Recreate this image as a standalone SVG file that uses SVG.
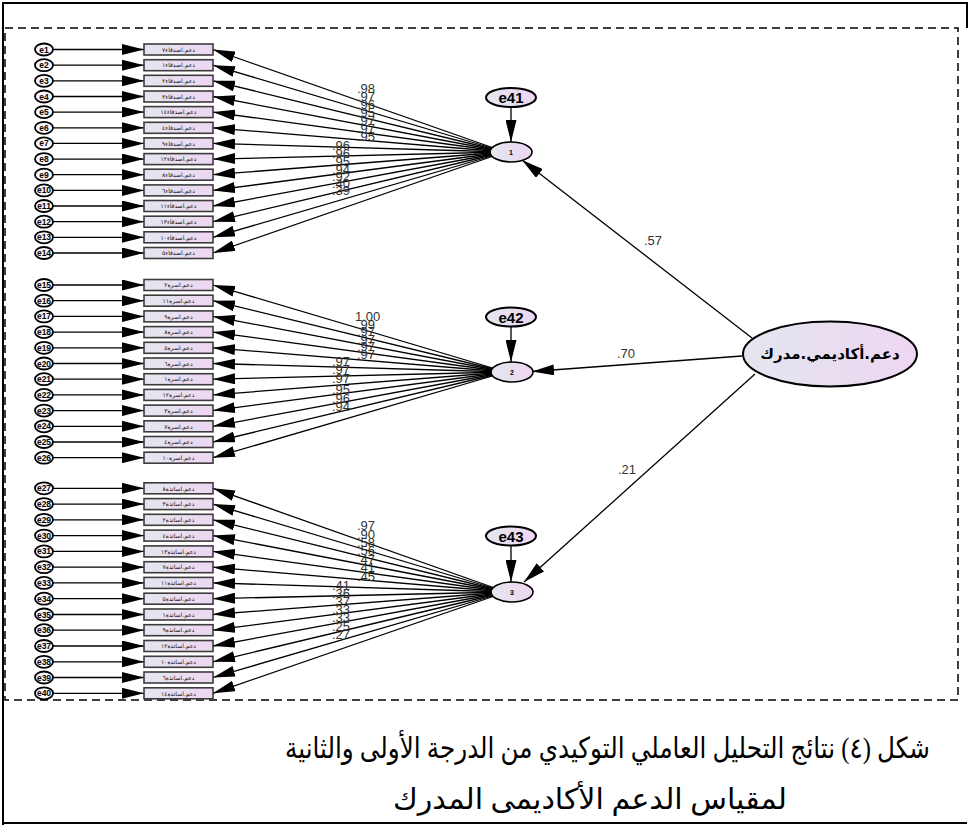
<svg xmlns="http://www.w3.org/2000/svg" width="970" height="825" viewBox="0 0 970 825">
<defs>
  <linearGradient id="fillGrad" x1="0" y1="0" x2="1" y2="0">
    <stop offset="0" stop-color="#e3e6ef"/>
    <stop offset="1" stop-color="#eed6f2"/>
  </linearGradient>
  <marker id="ah" viewBox="0 0 22 11" refX="22" refY="5.5" markerWidth="22" markerHeight="11" markerUnits="userSpaceOnUse" orient="auto">
    <path d="M0,0 L22,5.5 L0,11 z" fill="#000"/>
  </marker>
  <style>
    .err ellipse{fill:#fbf8fd;stroke:#000;stroke-width:1.8}
    .err text{font:bold 8.5px "Liberation Sans",Arial,sans-serif;text-anchor:middle;fill:#000}
    .box rect{fill:url(#fillGrad);stroke:#3c3c3c;stroke-width:1.6}
    .box text{font:6px "DejaVu Sans",sans-serif;text-anchor:middle;fill:#111;direction:rtl}
    .fac ellipse{fill:url(#fillGrad);stroke:#000;stroke-width:1.6}
    .fac text{font:bold 7px "Liberation Sans",Arial,sans-serif;text-anchor:middle}
    .res ellipse{fill:url(#fillGrad);stroke:#000;stroke-width:2}
    .res text{font:bold 15px "Liberation Sans",Arial,sans-serif;text-anchor:middle}
    .conn line{stroke:#000;stroke-width:1.3;marker-end:url(#ah)}
    .wt text{font:13px "Liberation Sans",Arial,sans-serif;fill:#333}
    .frame{fill:none;stroke:#000;stroke-width:2}
    .dash{fill:none;stroke:#000;stroke-width:1.5;stroke-dasharray:8 5}
    .cap{font:29px "Liberation Serif","DejaVu Sans",serif;text-anchor:middle;direction:rtl;fill:#000}
  </style>
</defs>
<rect width="970" height="825" fill="#fff"/>

<!-- page frame and dashed figure border -->
<g id="frame">
  <path class="frame" d="M3,825 V3 H967 V28"/>
  <path class="frame" d="M3,823 H967"/>
  <rect class="dash" x="5" y="28" width="953" height="672"/>
</g>

<!-- connectors: residual arrows, loadings and second-order paths -->
<g id="connectors" class="conn">
  <!-- residuals to indicators, block 1 -->
  <line x1="53" y1="49.5" x2="144" y2="49.5"/>
  <line x1="53" y1="65.2" x2="144" y2="65.2"/>
  <line x1="53" y1="80.8" x2="144" y2="80.8"/>
  <line x1="53" y1="96.5" x2="144" y2="96.5"/>
  <line x1="53" y1="112.1" x2="144" y2="112.1"/>
  <line x1="53" y1="127.8" x2="144" y2="127.8"/>
  <line x1="53" y1="143.4" x2="144" y2="143.4"/>
  <line x1="53" y1="159.1" x2="144" y2="159.1"/>
  <line x1="53" y1="174.7" x2="144" y2="174.7"/>
  <line x1="53" y1="190.4" x2="144" y2="190.4"/>
  <line x1="53" y1="206" x2="144" y2="206"/>
  <line x1="53" y1="221.7" x2="144" y2="221.7"/>
  <line x1="53" y1="237.3" x2="144" y2="237.3"/>
  <line x1="53" y1="253" x2="144" y2="253"/>
  <!-- residuals to indicators, block 2 -->
  <line x1="53" y1="285" x2="144" y2="285"/>
  <line x1="53" y1="300.7" x2="144" y2="300.7"/>
  <line x1="53" y1="316.4" x2="144" y2="316.4"/>
  <line x1="53" y1="332.1" x2="144" y2="332.1"/>
  <line x1="53" y1="347.8" x2="144" y2="347.8"/>
  <line x1="53" y1="363.5" x2="144" y2="363.5"/>
  <line x1="53" y1="379.2" x2="144" y2="379.2"/>
  <line x1="53" y1="394.9" x2="144" y2="394.9"/>
  <line x1="53" y1="410.6" x2="144" y2="410.6"/>
  <line x1="53" y1="426.3" x2="144" y2="426.3"/>
  <line x1="53" y1="442" x2="144" y2="442"/>
  <line x1="53" y1="457.7" x2="144" y2="457.7"/>
  <!-- residuals to indicators, block 3 -->
  <line x1="53" y1="488.3" x2="144" y2="488.3"/>
  <line x1="53" y1="504.1" x2="144" y2="504.1"/>
  <line x1="53" y1="519.8" x2="144" y2="519.8"/>
  <line x1="53" y1="535.6" x2="144" y2="535.6"/>
  <line x1="53" y1="551.4" x2="144" y2="551.4"/>
  <line x1="53" y1="567.2" x2="144" y2="567.2"/>
  <line x1="53" y1="582.9" x2="144" y2="582.9"/>
  <line x1="53" y1="598.7" x2="144" y2="598.7"/>
  <line x1="53" y1="614.5" x2="144" y2="614.5"/>
  <line x1="53" y1="630.2" x2="144" y2="630.2"/>
  <line x1="53" y1="646" x2="144" y2="646"/>
  <line x1="53" y1="661.8" x2="144" y2="661.8"/>
  <line x1="53" y1="677.5" x2="144" y2="677.5"/>
  <line x1="53" y1="693.3" x2="144" y2="693.3"/>

  <!-- factor 1 loadings -->
  <line x1="505" y1="152" x2="213" y2="49.5"/>
  <line x1="505" y1="152" x2="213" y2="65.2"/>
  <line x1="505" y1="152" x2="213" y2="80.8"/>
  <line x1="505" y1="152" x2="213" y2="96.5"/>
  <line x1="505" y1="152" x2="213" y2="112.1"/>
  <line x1="505" y1="152" x2="213" y2="127.8"/>
  <line x1="505" y1="152" x2="213" y2="143.4"/>
  <line x1="505" y1="152" x2="213" y2="159.1"/>
  <line x1="505" y1="152" x2="213" y2="174.7"/>
  <line x1="505" y1="152" x2="213" y2="190.4"/>
  <line x1="505" y1="152" x2="213" y2="206"/>
  <line x1="505" y1="152" x2="213" y2="221.7"/>
  <line x1="505" y1="152" x2="213" y2="237.3"/>
  <line x1="505" y1="152" x2="213" y2="253"/>
  <!-- factor 2 loadings -->
  <line x1="506" y1="372" x2="213" y2="285"/>
  <line x1="506" y1="372" x2="213" y2="300.7"/>
  <line x1="506" y1="372" x2="213" y2="316.4"/>
  <line x1="506" y1="372" x2="213" y2="332.1"/>
  <line x1="506" y1="372" x2="213" y2="347.8"/>
  <line x1="506" y1="372" x2="213" y2="363.5"/>
  <line x1="506" y1="372" x2="213" y2="379.2"/>
  <line x1="506" y1="372" x2="213" y2="394.9"/>
  <line x1="506" y1="372" x2="213" y2="410.6"/>
  <line x1="506" y1="372" x2="213" y2="426.3"/>
  <line x1="506" y1="372" x2="213" y2="442"/>
  <line x1="506" y1="372" x2="213" y2="457.7"/>
  <!-- factor 3 loadings -->
  <line x1="506" y1="592" x2="213" y2="488.3"/>
  <line x1="506" y1="592" x2="213" y2="504.1"/>
  <line x1="506" y1="592" x2="213" y2="519.8"/>
  <line x1="506" y1="592" x2="213" y2="535.6"/>
  <line x1="506" y1="592" x2="213" y2="551.4"/>
  <line x1="506" y1="592" x2="213" y2="567.2"/>
  <line x1="506" y1="592" x2="213" y2="582.9"/>
  <line x1="506" y1="592" x2="213" y2="598.7"/>
  <line x1="506" y1="592" x2="213" y2="614.5"/>
  <line x1="506" y1="592" x2="213" y2="630.2"/>
  <line x1="506" y1="592" x2="213" y2="646"/>
  <line x1="506" y1="592" x2="213" y2="661.8"/>
  <line x1="506" y1="592" x2="213" y2="677.5"/>
  <line x1="506" y1="592" x2="213" y2="693.3"/>

  <!-- disturbances to first-order factors -->
  <line x1="511" y1="107" x2="511" y2="142"/>
  <line x1="511" y1="326.5" x2="511" y2="362"/>
  <line x1="511" y1="545.5" x2="511" y2="582"/>

  <!-- second-order factor paths -->
  <line x1="752" y1="338" x2="522" y2="160"/>
  <line x1="742" y1="356" x2="532" y2="371.5"/>
  <line x1="755" y1="374" x2="524" y2="582"/>
</g>

<!-- observed indicators: peer support -->
<g id="peers">
  <g id="e1" class="err"><ellipse cx="44" cy="49.5" rx="9" ry="6"/><text x="44" y="52.5">e1</text></g>
  <g id="e2" class="err"><ellipse cx="44" cy="65.2" rx="9" ry="6"/><text x="44" y="68.2">e2</text></g>
  <g id="e3" class="err"><ellipse cx="44" cy="80.8" rx="9" ry="6"/><text x="44" y="83.8">e3</text></g>
  <g id="e4" class="err"><ellipse cx="44" cy="96.5" rx="9" ry="6"/><text x="44" y="99.5">e4</text></g>
  <g id="e5" class="err"><ellipse cx="44" cy="112.1" rx="9" ry="6"/><text x="44" y="115.1">e5</text></g>
  <g id="e6" class="err"><ellipse cx="44" cy="127.8" rx="9" ry="6"/><text x="44" y="130.8">e6</text></g>
  <g id="e7" class="err"><ellipse cx="44" cy="143.4" rx="9" ry="6"/><text x="44" y="146.4">e7</text></g>
  <g id="e8" class="err"><ellipse cx="44" cy="159.1" rx="9" ry="6"/><text x="44" y="162.1">e8</text></g>
  <g id="e9" class="err"><ellipse cx="44" cy="174.7" rx="9" ry="6"/><text x="44" y="177.7">e9</text></g>
  <g id="e10" class="err"><ellipse cx="44" cy="190.4" rx="9" ry="6"/><text x="44" y="193.4">e10</text></g>
  <g id="e11" class="err"><ellipse cx="44" cy="206" rx="9" ry="6"/><text x="44" y="209">e11</text></g>
  <g id="e12" class="err"><ellipse cx="44" cy="221.7" rx="9" ry="6"/><text x="44" y="224.7">e12</text></g>
  <g id="e13" class="err"><ellipse cx="44" cy="237.3" rx="9" ry="6"/><text x="44" y="240.3">e13</text></g>
  <g id="e14" class="err"><ellipse cx="44" cy="253" rx="9" ry="6"/><text x="44" y="256">e14</text></g>

  <g id="p7" class="box"><rect x="144" y="44" width="69" height="11"/><text x="178.5" y="51.7">دعم.اصدقاء٧</text></g>
  <g id="p1" class="box"><rect x="144" y="59.7" width="69" height="11"/><text x="178.5" y="67.4">دعم.اصدقاء١</text></g>
  <g id="p2" class="box"><rect x="144" y="75.3" width="69" height="11"/><text x="178.5" y="83">دعم.اصدقاء٢</text></g>
  <g id="p3" class="box"><rect x="144" y="91" width="69" height="11"/><text x="178.5" y="98.7">دعم.اصدقاء٣</text></g>
  <g id="p14" class="box"><rect x="144" y="106.6" width="69" height="11"/><text x="178.5" y="114.3">دعم.اصدقاء١٤</text></g>
  <g id="p4" class="box"><rect x="144" y="122.3" width="69" height="11"/><text x="178.5" y="130">دعم.اصدقاء٤</text></g>
  <g id="p9" class="box"><rect x="144" y="137.9" width="69" height="11"/><text x="178.5" y="145.6">دعم.اصدقاء٩</text></g>
  <g id="p12" class="box"><rect x="144" y="153.6" width="69" height="11"/><text x="178.5" y="161.3">دعم.اصدقاء١٢</text></g>
  <g id="p8" class="box"><rect x="144" y="169.2" width="69" height="11"/><text x="178.5" y="176.9">دعم.اصدقاء٨</text></g>
  <g id="p6" class="box"><rect x="144" y="184.9" width="69" height="11"/><text x="178.5" y="192.6">دعم.اصدقاء٦</text></g>
  <g id="p11" class="box"><rect x="144" y="200.5" width="69" height="11"/><text x="178.5" y="208.2">دعم.اصدقاء١١</text></g>
  <g id="p13" class="box"><rect x="144" y="216.2" width="69" height="11"/><text x="178.5" y="223.9">دعم.اصدقاء١٣</text></g>
  <g id="p10" class="box"><rect x="144" y="231.8" width="69" height="11"/><text x="178.5" y="239.5">دعم.اصدقاء١٠</text></g>
  <g id="p5" class="box"><rect x="144" y="247.5" width="69" height="11"/><text x="178.5" y="255.2">دعم.اصدقاء٥</text></g>
</g>

<!-- observed indicators: family support -->
<g id="family">
  <g id="e15" class="err"><ellipse cx="44" cy="285" rx="9" ry="6"/><text x="44" y="288">e15</text></g>
  <g id="e16" class="err"><ellipse cx="44" cy="300.7" rx="9" ry="6"/><text x="44" y="303.7">e16</text></g>
  <g id="e17" class="err"><ellipse cx="44" cy="316.4" rx="9" ry="6"/><text x="44" y="319.4">e17</text></g>
  <g id="e18" class="err"><ellipse cx="44" cy="332.1" rx="9" ry="6"/><text x="44" y="335.1">e18</text></g>
  <g id="e19" class="err"><ellipse cx="44" cy="347.8" rx="9" ry="6"/><text x="44" y="350.8">e19</text></g>
  <g id="e20" class="err"><ellipse cx="44" cy="363.5" rx="9" ry="6"/><text x="44" y="366.5">e20</text></g>
  <g id="e21" class="err"><ellipse cx="44" cy="379.2" rx="9" ry="6"/><text x="44" y="382.2">e21</text></g>
  <g id="e22" class="err"><ellipse cx="44" cy="394.9" rx="9" ry="6"/><text x="44" y="397.9">e22</text></g>
  <g id="e23" class="err"><ellipse cx="44" cy="410.6" rx="9" ry="6"/><text x="44" y="413.6">e23</text></g>
  <g id="e24" class="err"><ellipse cx="44" cy="426.3" rx="9" ry="6"/><text x="44" y="429.3">e24</text></g>
  <g id="e25" class="err"><ellipse cx="44" cy="442" rx="9" ry="6"/><text x="44" y="445">e25</text></g>
  <g id="e26" class="err"><ellipse cx="44" cy="457.7" rx="9" ry="6"/><text x="44" y="460.7">e26</text></g>

  <g id="f2" class="box"><rect x="144" y="279.5" width="69" height="11"/><text x="178.5" y="287.2">دعم.اسرة٢</text></g>
  <g id="f11" class="box"><rect x="144" y="295.2" width="69" height="11"/><text x="178.5" y="302.9">دعم.اسرة١١</text></g>
  <g id="f9" class="box"><rect x="144" y="310.9" width="69" height="11"/><text x="178.5" y="318.6">دعم.اسرة٩</text></g>
  <g id="f8" class="box"><rect x="144" y="326.6" width="69" height="11"/><text x="178.5" y="334.3">دعم.اسرة٨</text></g>
  <g id="f5" class="box"><rect x="144" y="342.3" width="69" height="11"/><text x="178.5" y="350">دعم.اسرة٥</text></g>
  <g id="f6" class="box"><rect x="144" y="358" width="69" height="11"/><text x="178.5" y="365.7">دعم.اسرة٦</text></g>
  <g id="f1" class="box"><rect x="144" y="373.7" width="69" height="11"/><text x="178.5" y="381.4">دعم.اسرة١</text></g>
  <g id="f12" class="box"><rect x="144" y="389.4" width="69" height="11"/><text x="178.5" y="397.1">دعم.اسرة١٢</text></g>
  <g id="f3" class="box"><rect x="144" y="405.1" width="69" height="11"/><text x="178.5" y="412.8">دعم.اسرة٣</text></g>
  <g id="f7" class="box"><rect x="144" y="420.8" width="69" height="11"/><text x="178.5" y="428.5">دعم.اسرة٧</text></g>
  <g id="f4" class="box"><rect x="144" y="436.5" width="69" height="11"/><text x="178.5" y="444.2">دعم.اسرة٤</text></g>
  <g id="f10" class="box"><rect x="144" y="452.2" width="69" height="11"/><text x="178.5" y="459.9">دعم.اسرة١٠</text></g>
</g>

<!-- observed indicators: teacher support -->
<g id="teachers">
  <g id="e27" class="err"><ellipse cx="44" cy="488.3" rx="9" ry="6"/><text x="44" y="491.3">e27</text></g>
  <g id="e28" class="err"><ellipse cx="44" cy="504.1" rx="9" ry="6"/><text x="44" y="507.1">e28</text></g>
  <g id="e29" class="err"><ellipse cx="44" cy="519.8" rx="9" ry="6"/><text x="44" y="522.8">e29</text></g>
  <g id="e30" class="err"><ellipse cx="44" cy="535.6" rx="9" ry="6"/><text x="44" y="538.6">e30</text></g>
  <g id="e31" class="err"><ellipse cx="44" cy="551.4" rx="9" ry="6"/><text x="44" y="554.4">e31</text></g>
  <g id="e32" class="err"><ellipse cx="44" cy="567.2" rx="9" ry="6"/><text x="44" y="570.2">e32</text></g>
  <g id="e33" class="err"><ellipse cx="44" cy="582.9" rx="9" ry="6"/><text x="44" y="585.9">e33</text></g>
  <g id="e34" class="err"><ellipse cx="44" cy="598.7" rx="9" ry="6"/><text x="44" y="601.7">e34</text></g>
  <g id="e35" class="err"><ellipse cx="44" cy="614.5" rx="9" ry="6"/><text x="44" y="617.5">e35</text></g>
  <g id="e36" class="err"><ellipse cx="44" cy="630.2" rx="9" ry="6"/><text x="44" y="633.2">e36</text></g>
  <g id="e37" class="err"><ellipse cx="44" cy="646" rx="9" ry="6"/><text x="44" y="649">e37</text></g>
  <g id="e38" class="err"><ellipse cx="44" cy="661.8" rx="9" ry="6"/><text x="44" y="664.8">e38</text></g>
  <g id="e39" class="err"><ellipse cx="44" cy="677.5" rx="9" ry="6"/><text x="44" y="680.5">e39</text></g>
  <g id="e40" class="err"><ellipse cx="44" cy="693.3" rx="9" ry="6"/><text x="44" y="696.3">e40</text></g>

  <g id="t8" class="box"><rect x="144" y="482.8" width="69" height="11"/><text x="178.5" y="490.5">دعم.اساتذة٨</text></g>
  <g id="t3" class="box"><rect x="144" y="498.6" width="69" height="11"/><text x="178.5" y="506.3">دعم.اساتذة٣</text></g>
  <g id="t2" class="box"><rect x="144" y="514.3" width="69" height="11"/><text x="178.5" y="522">دعم.اساتذة٢</text></g>
  <g id="t4" class="box"><rect x="144" y="530.1" width="69" height="11"/><text x="178.5" y="537.8">دعم.اساتذة٤</text></g>
  <g id="t13" class="box"><rect x="144" y="545.9" width="69" height="11"/><text x="178.5" y="553.6">دعم.اساتذة١٣</text></g>
  <g id="t7" class="box"><rect x="144" y="561.7" width="69" height="11"/><text x="178.5" y="569.4">دعم.اساتذة٧</text></g>
  <g id="t11" class="box"><rect x="144" y="577.4" width="69" height="11"/><text x="178.5" y="585.1">دعم.اساتذة١١</text></g>
  <g id="t5" class="box"><rect x="144" y="593.2" width="69" height="11"/><text x="178.5" y="600.9">دعم.اساتذة٥</text></g>
  <g id="t1" class="box"><rect x="144" y="609" width="69" height="11"/><text x="178.5" y="616.7">دعم.اساتذة١</text></g>
  <g id="t9" class="box"><rect x="144" y="624.7" width="69" height="11"/><text x="178.5" y="632.4">دعم.اساتذة٩</text></g>
  <g id="t12" class="box"><rect x="144" y="640.5" width="69" height="11"/><text x="178.5" y="648.2">دعم.اساتذة١٢</text></g>
  <g id="t10" class="box"><rect x="144" y="656.3" width="69" height="11"/><text x="178.5" y="664">دعم.اساتذة١٠</text></g>
  <g id="t6" class="box"><rect x="144" y="672" width="69" height="11"/><text x="178.5" y="679.7">دعم.اساتذة٦</text></g>
  <g id="t14" class="box"><rect x="144" y="687.8" width="69" height="11"/><text x="178.5" y="695.5">دعم.اساتذة١٤</text></g>
</g>

<!-- first-order factors and their disturbances -->
<g id="factor1" class="fac"><ellipse cx="511" cy="152" rx="21" ry="10"/><text x="511" y="154.5">1</text></g>
<g id="factor2" class="fac"><ellipse cx="512" cy="372" rx="21" ry="10"/><text x="512" y="374.5">2</text></g>
<g id="factor3" class="fac"><ellipse cx="512" cy="592" rx="21" ry="10"/><text x="512" y="594.5">3</text></g>
<g id="e41" class="res"><ellipse cx="511" cy="97.5" rx="25" ry="9.5"/><text x="511" y="103">e41</text></g>
<g id="e42" class="res"><ellipse cx="511" cy="317" rx="25" ry="9.5"/><text x="511" y="322.5">e42</text></g>
<g id="e43" class="res"><ellipse cx="511" cy="536" rx="25" ry="9.5"/><text x="511" y="541.5">e43</text></g>

<!-- second-order factor -->
<g id="academic" class="res">
  <ellipse cx="830" cy="354" rx="87" ry="32.5"/>
  <text x="830" y="359" style="font:bold 15px 'DejaVu Sans',sans-serif;direction:rtl">دعم.أكاديمي.مدرك</text>
</g>

<!-- standardized estimates -->
<g id="weights" class="wt">
  <text x="357" y="93">.98</text>
  <text x="357" y="100.5">.97</text>
  <text x="357" y="109">.96</text>
  <text x="357" y="117">.95</text>
  <text x="357" y="125">.97</text>
  <text x="357" y="132.5">.97</text>
  <text x="357" y="140.5">.95</text>
  <text x="332" y="149.5">.96</text>
  <text x="332" y="157.5">.96</text>
  <text x="332" y="166">.95</text>
  <text x="332" y="174">.94</text>
  <text x="332" y="181">.92</text>
  <text x="332" y="188">.40</text>
  <text x="332" y="195">.39</text>

  <text x="355" y="321">1.00</text>
  <text x="357" y="328.5">.99</text>
  <text x="357" y="336">.97</text>
  <text x="357" y="343.5">.97</text>
  <text x="357" y="351">.97</text>
  <text x="357" y="358.5">.97</text>
  <text x="332" y="366">.97</text>
  <text x="332" y="374">.97</text>
  <text x="332" y="382.5">.97</text>
  <text x="332" y="394">.95</text>
  <text x="332" y="402.5">.96</text>
  <text x="332" y="411">.94</text>

  <text x="357" y="529.5">.97</text>
  <text x="357" y="538.5">.90</text>
  <text x="357" y="547">.58</text>
  <text x="357" y="555">.56</text>
  <text x="357" y="563.5">.47</text>
  <text x="357" y="572">.41</text>
  <text x="357" y="580.5">.45</text>
  <text x="332" y="589.5">.41</text>
  <text x="332" y="598">.36</text>
  <text x="332" y="606">.37</text>
  <text x="332" y="614">.33</text>
  <text x="332" y="622">.33</text>
  <text x="332" y="631">.25</text>
  <text x="332" y="639">.27</text>

  <text x="644" y="245">.57</text>
  <text x="617" y="358">.70</text>
  <text x="618" y="474">.21</text>
</g>

<!-- caption -->
<g id="caption">
  <text class="cap" x="607.5" y="758" textLength="645" lengthAdjust="spacingAndGlyphs">شكل (٤) نتائج التحليل العاملي التوكيدي من الدرجة الأولى والثانية</text>
  <text class="cap" x="590" y="809" textLength="394" lengthAdjust="spacingAndGlyphs">لمقياس الدعم الأكاديمى المدرك</text>
</g>
</svg>
